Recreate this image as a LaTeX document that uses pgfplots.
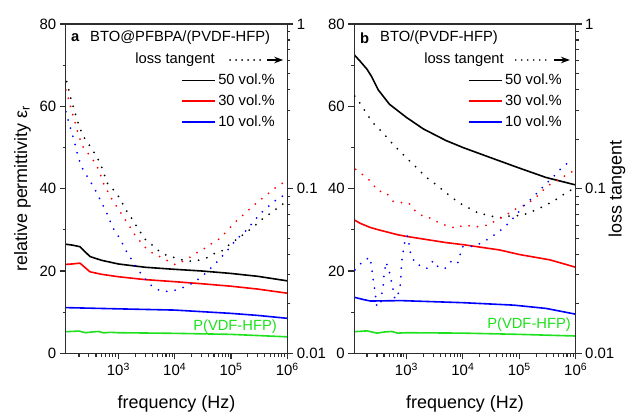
\documentclass[border=0pt]{standalone}
\usepackage{fontspec}
\setmainfont{Liberation Sans}
\usepackage{pgfplots}
\pgfplotsset{compat=1.18}
\usetikzlibrary{arrows.meta}

\definecolor{pgreen}{RGB}{30,225,30}
\definecolor{axgray}{RGB}{45,45,45}
\newcommand{\tickfont}{\fontsize{15}{18}\selectfont}
\newcommand{\labfont}{\fontsize{18}{21}\selectfont}
\newcommand{\legfont}{\fontsize{14.8}{17}\selectfont}

\pgfplotsset{
  every axis/.append style={
    scale only axis, height=329.3bp,
    axis line style={axgray, line width=1.2bp},
    xtick style={axgray, line width=1.1bp},
    ytick style={axgray, line width=1.1bp},
    minor tick style={axgray, line width=1bp},
    tick align=outside,
    major tick length=6bp, minor tick length=3.2bp,
    tick label style={font=\tickfont},
    /pgf/number format/assume math mode=true,
  },
}
\tikzset{
  mySol/.style={line width=1.6bp},
  myDot/.style={line width=2bp, line cap=round, dash pattern=on 0bp off 8.5bp},
}

\begin{document}
\begin{tikzpicture}
\useasboundingbox (-65.7bp,-59.7bp) rectangle (561.3bp,353.3bp);

% ---------------- panel a ----------------
\begin{axis}[width=221.6bp, xmin=116, xmax=1e6, xmode=log, log basis x=10,
  at={(0bp,0bp)}, anchor=south west,
  ymin=0, ymax=80, ytick={0,20,40,60,80}, minor ytick={10,30,50,70},
  xtick={1000,10000,100000,1000000},
  xticklabels={10\textsuperscript{3},10\textsuperscript{4},10\textsuperscript{5},10\textsuperscript{6}},
  minor xtick={200,300,400,500,600,700,800,900,2000,3000,4000,5000,6000,7000,8000,9000,20000,30000,40000,50000,60000,70000,80000,90000,200000,300000,400000,500000,600000,700000,800000,900000},
  ytick pos=left, xtick pos=left,
  ylabel={relative permittivity ε\textsubscript{r}},
  ylabel style={font=\labfont, at={(axis description cs:-0.195,0.5)}, anchor=center},
  xlabel={frequency (Hz)},
  xlabel style={font=\labfont, at={(axis description cs:0.5,-0.154)}, anchor=center},
  legend style={draw=none, fill=none, font=\legfont, inner sep=0pt,
      at={(0.9535,0.854)}, anchor=north east, row sep=4.7bp},
  legend cell align=left,
  legend image code/.code={\draw[#1] (0bp,0bp) -- (33bp,0bp);}]
\addplot[mySol, black] coordinates {(116,26.5)(150,26.3)(208,25.9)(313,23.5)(500,22.6)(1000,21.7)(3000,20.9)(10000,20.4)(30000,20.0)(100000,19.4)(300000,18.7)(1000000,17.6)};
\addlegendentry{50 vol.\%}
\addplot[mySol, red] coordinates {(116,21.6)(150,21.7)(208,21.9)(313,19.8)(500,19.2)(1000,18.6)(3000,17.9)(10000,17.4)(30000,16.9)(100000,16.3)(300000,15.6)(1000000,14.6)};
\addlegendentry{30 vol.\%}
\addplot[mySol, blue] coordinates {(116,11.1)(1000,10.8)(10000,10.5)(100000,9.7)(300000,9.2)(1000000,8.5)};
\addlegendentry{10 vol.\%}
\addplot[mySol, pgreen, forget plot] coordinates {(116,5.25)(200,5.4)(260,5.0)(350,5.2)(450,5.3)(550,4.95)(700,5.1)(1000,5.0)(10000,4.85)(100000,4.6)(1000000,4.0)};
\node[anchor=west, inner sep=0pt, font=\bfseries\legfont] at (rel axis cs:0.024,0.9575) {a};
\node[anchor=west, inner sep=0pt, font=\legfont] at (rel axis cs:0.1097,0.9575) {BTO@PFBPA/(PVDF-HFP)};
\node[anchor=east, inner sep=0pt, font=\legfont] at (rel axis cs:0.674,0.8907) {loss tangent};
\draw[black, line width=1.8bp, line cap=round, dash pattern=on 0bp off 6bp] (rel axis cs:0.742,0.8907) -- (rel axis cs:0.89,0.8907);
\draw[black, line width=1.5bp, -{Stealth[length=9bp,width=6.5bp]}] (rel axis cs:0.91,0.8907) -- (rel axis cs:0.9815,0.8907);
\node[anchor=east, inner sep=0pt, font=\legfont, text=pgreen] at (rel axis cs:0.9535,0.0808) {P(VDF-HFP)};
\end{axis}

\begin{axis}[width=221.6bp, xmin=116, xmax=1e6, xmode=log, log basis x=10,
  at={(0bp,0bp)}, anchor=south west,
  ymode=log, log basis y=10, ymin=0.01, ymax=1,
  ytick={0.01,0.1,1}, yticklabels={0.01,0.1,1},
  minor ytick={0.02,0.03,0.04,0.05,0.06,0.07,0.08,0.09,0.2,0.3,0.4,0.5,0.6,0.7,0.8,0.9},
  ytick pos=right, xtick=\empty, minor xtick={}]
\addplot[myDot, black] coordinates {(121,0.447)(146,0.345)(163,0.303)(182,0.266)(206,0.233)(245,0.205)(317,0.180)(405,0.158)(491,0.139)(562,0.122)(646,0.107)(845,0.0972)(1090,0.0863)(1330,0.0750)(1720,0.0661)(2490,0.054)(3010,0.0492)(3950,0.0455)(5330,0.0417)(7100,0.0394)(9440,0.0383)(11800,0.0373)(16700,0.0364)(21400,0.0362)(25900,0.0367)(36400,0.0379)(50500,0.0403)(68400,0.0418)(93300,0.0457)(184500,0.054)(264000,0.0596)(366000,0.0657)(528000,0.0718)(741000,0.0781)(968000,0.0842)};
\addplot[myDot, red] coordinates {(117,0.397)(131,0.349)(144,0.308)(161,0.270)(179,0.236)(200,0.208)(228,0.182)(304,0.160)(400,0.141)(477,0.123)(540,0.108)(770,0.0861)(1220,0.0676)(2030,0.0515)(2970,0.0441)(3790,0.0412)(5330,0.0388)(7210,0.0367)(10400,0.0345)(14600,0.0365)(18700,0.0383)(23900,0.0405)(32200,0.0428)(46000,0.0466)(64600,0.0499)(85900,0.0556)(121000,0.0630)(170000,0.0698)(243000,0.0781)(337000,0.0857)(479000,0.0945)(675000,0.104)(949000,0.111)};
\addplot[myDot, blue] coordinates {(117,0.293)(129,0.259)(144,0.227)(161,0.200)(177,0.175)(197,0.153)(223,0.135)(281,0.118)(354,0.104)(434,0.0911)(532,0.0796)(653,0.0683)(802,0.0577)(1070,0.0497)(1290,0.0435)(1610,0.0383)(2230,0.0321)(3640,0.0261)(5260,0.0242)(6810,0.0237)(9060,0.0240)(11100,0.0243)(15400,0.0254)(20300,0.0266)(25900,0.0281)(35600,0.0307)(50500,0.0345)(68400,0.0386)(91000,0.0430)(126000,0.0494)(177000,0.0548)(243000,0.0621)(327000,0.0702)(473000,0.0785)(664000,0.0865)(949000,0.0924)};
\end{axis}

% ---------------- panel b ----------------
\begin{axis}[width=221.4bp, xmin=119, xmax=1e6, xmode=log, log basis x=10,
  at={(288.6bp,0bp)}, anchor=south west,
  ymin=0, ymax=80, ytick={0,20,40,60,80}, minor ytick={10,30,50,70},
  xtick={1000,10000,100000,1000000},
  xticklabels={10\textsuperscript{3},10\textsuperscript{4},10\textsuperscript{5},10\textsuperscript{6}},
  minor xtick={200,300,400,500,600,700,800,900,2000,3000,4000,5000,6000,7000,8000,9000,20000,30000,40000,50000,60000,70000,80000,90000,200000,300000,400000,500000,600000,700000,800000,900000},
  ytick pos=left, xtick pos=left,
  xlabel={frequency (Hz)},
  xlabel style={font=\labfont, at={(axis description cs:0.5,-0.154)}, anchor=center},
  legend style={draw=none, fill=none, font=\legfont, inner sep=0pt,
      at={(0.947,0.854)}, anchor=north east, row sep=4.7bp},
  legend cell align=left,
  legend image code/.code={\draw[#1] (0bp,0bp) -- (33bp,0bp);}]
\addplot[mySol, black] coordinates {(119,72.5)(150,71)(200,69)(242,67.2)(316,64)(500,60.5)(1000,57.3)(2000,54.5)(5000,51.7)(10000,50.0)(30000,47.6)(100000,45.0)(300000,42.7)(1000000,40.9)};
\addlegendentry{50 vol.\%}
\addplot[mySol, red] coordinates {(119,32.4)(150,31.6)(225,30.6)(300,30.1)(700,28.8)(1000,28.4)(5000,26.9)(10000,26.4)(45000,25.1)(100000,24.0)(350000,22.7)(1000000,20.9)};
\addlegendentry{30 vol.\%}
\addplot[mySol, blue] coordinates {(119,13.6)(180,13.0)(230,12.7)(800,12.8)(10000,12.3)(80000,11.7)(300000,10.9)(1000000,9.5)};
\addlegendentry{10 vol.\%}
\addplot[mySol, pgreen, forget plot] coordinates {(119,5.25)(200,5.45)(300,4.9)(420,5.2)(550,5.3)(700,4.9)(1000,5.0)(10000,4.9)(100000,4.6)(1000000,4.2)};
\node[anchor=west, inner sep=0pt, font=\bfseries\legfont] at (rel axis cs:0.025,0.9575) {b};
\node[anchor=west, inner sep=0pt, font=\legfont] at (rel axis cs:0.116,0.9575) {BTO/(PVDF-HFP)};
\node[anchor=east, inner sep=0pt, font=\legfont] at (rel axis cs:0.676,0.8907) {loss tangent};
\draw[black, line width=1.8bp, line cap=round, dash pattern=on 0bp off 6bp] (rel axis cs:0.729,0.8907) -- (rel axis cs:0.88,0.8907);
\draw[black, line width=1.5bp, -{Stealth[length=9bp,width=6.5bp]}] (rel axis cs:0.902,0.8907) -- (rel axis cs:0.974,0.8907);
\node[anchor=east, inner sep=0pt, font=\legfont, text=pgreen] at (rel axis cs:0.9788,0.086) {P(VDF-HFP)};
\end{axis}

\begin{axis}[width=221.4bp, xmin=119, xmax=1e6, xmode=log, log basis x=10,
  at={(288.6bp,0bp)}, anchor=south west,
  ymode=log, log basis y=10, ymin=0.01, ymax=1,
  ytick={0.01,0.1,1}, yticklabels={0.01,0.1,1},
  minor ytick={0.02,0.03,0.04,0.05,0.06,0.07,0.08,0.09,0.2,0.3,0.4,0.5,0.6,0.7,0.8,0.9},
  ytick pos=right, xtick=\empty, minor xtick={},
  ylabel={loss tangent},
  ylabel style={font=\labfont, at={(axis description cs:1.1865,0.5)}, anchor=center}]
\addplot[myDot, black] coordinates {(121,0.365)(161,0.319)(202,0.281)(269,0.246)(388,0.217)(547,0.190)(757,0.169)(1080,0.150)(1520,0.134)(2130,0.119)(2990,0.109)(4210,0.0991)(5670,0.0915)(7760,0.0842)(10900,0.0780)(15300,0.0741)(20100,0.0698)(27100,0.0698)(38200,0.0667)(52000,0.0667)(75100,0.0689)(106000,0.0683)(149000,0.0714)(208000,0.0749)(297000,0.0796)(418000,0.0845)(589000,0.0915)(826000,0.0982)(980000,0.101)};
\addplot[myDot, red] coordinates {(126,0.131)(171,0.121)(238,0.110)(308,0.0968)(428,0.0951)(583,0.0838)(832,0.0822)(1090,0.0822)(1470,0.0724)(2040,0.0675)(2800,0.0661)(4040,0.0610)(5670,0.0593)(7550,0.0574)(10200,0.0601)(13700,0.0593)(19300,0.0587)(23700,0.0593)(29400,0.0607)(39700,0.0645)(55800,0.0683)(78300,0.0741)(118000,0.0788)(182000,0.0861)(267000,0.0982)(375000,0.108)(512000,0.114)(739000,0.123)(950000,0.129)};
\addplot[myDot, blue] coordinates {(122,0.0321)(171,0.0364)(225,0.0383)(242,0.0333)(252,0.0292)(269,0.0256)(296,0.0195)(349,0.0195)(363,0.0229)(388,0.0260)(399,0.0298)(432,0.0358)(495,0.0315)(538,0.0276)(583,0.0242)(625,0.0213)(736,0.0235)(789,0.0268)(815,0.0348)(857,0.0399)(914,0.0455)(980,0.0516)(1080,0.0513)(1120,0.0444)(1200,0.0394)(1470,0.0348)(2040,0.0336)(2280,0.0327)(2720,0.0355)(3070,0.0365)(3660,0.0333)(4820,0.0328)(6150,0.0360)(7960,0.0348)(8890,0.0394)(9750,0.0444)(13000,0.0444)(18000,0.0455)(23000,0.0477)(31100,0.0504)(43600,0.0548)(59800,0.0601)(86300,0.0685)(115000,0.0777)(155000,0.0853)(217000,0.0958)(306000,0.108)(430000,0.121)(603000,0.137)(849000,0.149)};
\end{axis}
\end{tikzpicture}
\end{document}
